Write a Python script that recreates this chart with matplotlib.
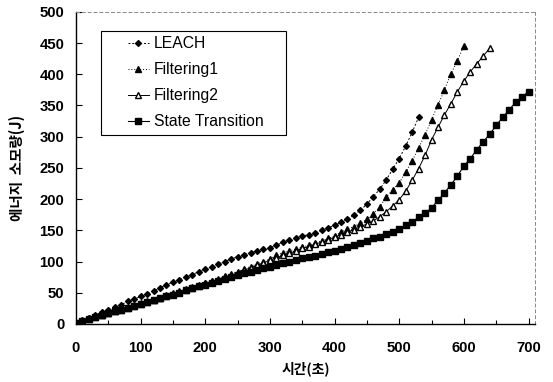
import matplotlib
matplotlib.use('Agg')
import matplotlib.pyplot as plt
from matplotlib.ticker import MultipleLocator
from matplotlib.legend_handler import HandlerLine2D

# sample times (s), one marker every 10 s
times = [0, 10, 20, 30, 40, 50, 60, 70, 80, 90,
         100, 110, 120, 130, 140, 150, 160, 170, 180, 190,
         200, 210, 220, 230, 240, 250, 260, 270, 280, 290,
         300, 310, 320, 330, 340, 350, 360, 370, 380, 390,
         400, 410, 420, 430, 440, 450, 460, 470, 480, 490,
         500, 510, 520, 530, 540, 550, 560, 570, 580, 590,
         600, 610, 620, 630, 640, 650, 660, 670, 680, 690, 700]

leach = [2, 6, 10, 14, 19, 23, 27, 31, 36, 40,
         44, 48, 53, 58, 63, 67, 71, 75, 79, 84,
         88, 92, 96, 100, 104, 108, 111, 114, 117, 120,
         122, 126, 131, 135, 138, 141, 143, 146, 150, 154,
         158, 163, 168, 174, 182, 192, 204, 216, 231, 248,
         265, 285, 307, 331]

filtering1 = [2, 5, 9, 12, 15, 18, 21, 24, 27, 30,
              33, 36, 39, 42, 46, 49, 52, 56, 59, 62,
              66, 69, 72, 76, 80, 84, 88, 92, 96, 100,
              104, 110, 114, 117, 120, 123, 126, 130, 133, 137,
              141, 147, 152, 156, 161, 168, 176, 188, 203, 215,
              226, 243, 261, 282, 303, 327, 351, 375, 401, 422,
              445]

filtering2 = [2, 5, 8, 11, 14, 17, 20, 23, 26, 29,
              32, 35, 38, 41, 45, 48, 51, 55, 58, 61,
              65, 68, 71, 75, 78, 82, 86, 90, 94, 98,
              102, 106, 110, 113, 117, 121, 124, 128, 131, 135,
              139, 143, 147, 151, 156, 160, 165, 172, 180, 189,
              199, 213, 230, 249, 270, 295, 315, 335, 353, 372,
              389, 404, 417, 429, 442]

state = [2, 5, 8, 11, 14, 17, 20, 23, 26, 29,
         32, 35, 38, 41, 44, 47, 50, 54, 57, 60,
         63, 66, 69, 72, 75, 78, 81, 84, 86, 89,
         92, 94, 97, 100, 102, 105, 107, 109, 112, 115,
         117, 120, 123, 126, 129, 133, 137, 140, 144, 148,
         152, 158, 163, 171, 177, 186, 198, 210, 223, 237,
         253, 265, 279, 292, 304, 318, 331, 343, 355, 364, 372]

plt.rcParams['font.family'] = ['Liberation Sans', 'Noto Sans CJK KR']

fig = plt.figure(figsize=(5.53, 3.82), dpi=100)
ax = fig.add_axes([0.1374, 0.152, 0.830, 0.817])

l1, = ax.plot(times[:len(leach)], leach, linestyle=(0, (2, 2)), color='black', linewidth=0.7,
              marker='D', markersize=3, label='LEACH')
l2, = ax.plot(times[:len(filtering1)], filtering1, linestyle=(0, (1, 2)), color='black', linewidth=0.7,
              marker='^', markersize=4.8, label='Filtering1')
l3, = ax.plot(times[:len(filtering2)], filtering2, linestyle='-', color='black', linewidth=0.7,
              marker='^', markersize=4.8, markerfacecolor='white', label='Filtering2')
l4, = ax.plot(times[:len(state)], state, linestyle='-', color='black', linewidth=0.8,
              marker='s', markersize=4.2, label='State Transition')

ax.set_xlim(0, 710)
ax.set_ylim(0, 500)
ax.xaxis.set_major_locator(MultipleLocator(100))
ax.xaxis.set_minor_locator(MultipleLocator(50))
ax.yaxis.set_major_locator(MultipleLocator(50))
ax.tick_params(axis='both', which='both', direction='in', labelsize=10.7, width=0.8)
ax.tick_params(axis='x', which='major', length=4, pad=12)
ax.tick_params(axis='x', which='minor', length=3)
ax.tick_params(axis='y', length=4, pad=8.5)
for lab in ax.get_xticklabels() + ax.get_yticklabels():
    lab.set_fontweight('bold')

for side in ['top', 'right']:
    ax.spines[side].set_linestyle((0, (3, 3)))
    ax.spines[side].set_color('#888888')
    ax.spines[side].set_linewidth(0.7)
for side in ['left', 'bottom']:
    ax.spines[side].set_linewidth(1.0)

ax.set_xlabel('시간(초)', fontsize=10, family=['Noto Sans CJK KR'], fontweight='bold', labelpad=5)
ax.set_ylabel('에너지  소모량(J)', fontsize=10.5, family=['Noto Sans CJK KR'], fontweight='bold',
              labelpad=10)

hmap = {h: HandlerLine2D(xpad=1.37) for h in [l1, l2, l3, l4]}
leg = ax.legend(handles=[l1, l2, l3, l4],
                labels=['LEACH', 'Filtering1', 'Filtering2', 'State Transition    '],
                handler_map=hmap, loc='upper left', bbox_to_anchor=(0.054, 0.940),
                fancybox=False, edgecolor='black', framealpha=1, fontsize=11.3,
                handlelength=2.7, labelspacing=0.7, borderpad=0.35, handletextpad=0.32,
                borderaxespad=0)
leg.get_frame().set_linewidth(0.8)

fig.savefig('out.png', dpi=100)
